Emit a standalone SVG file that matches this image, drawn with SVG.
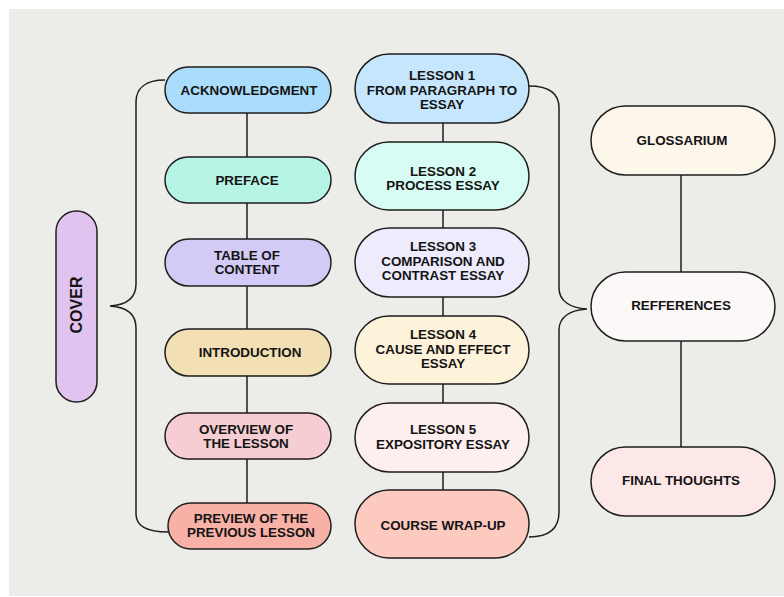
<svg xmlns="http://www.w3.org/2000/svg" width="784" height="597" viewBox="0 0 784 597">
<style>
.n{stroke:#1e1e1e;stroke-width:1.5}
.t{font-family:"Liberation Sans",Arial,sans-serif;font-weight:bold;font-size:13.4px;fill:#141414;text-anchor:middle}
.c{fill:none;stroke:#1e1e1e;stroke-width:1.5}
</style>
<rect x="0" y="0" width="784" height="597" fill="#ffffff"/>
<rect x="9" y="9" width="775" height="587" fill="#ecede8"/>
<g id="connectors">
<path class="c" d="M247,113 V157 M247,203 V239 M247,286 V329 M247,376 V413 M247,459 V503"/>
<path class="c" d="M443,123 V142 M443,210 V228 M443,297 V316 M443,384 V403 M443,472 V490"/>
<path class="c" d="M681,175 V272 M681,341 V447"/>
<path class="c" d="M165,80 C146,80 136,88 136,102 L136,284 C136,298 126,305 110,306 C126,307 136,314 136,328 L136,514 C136,526 146,532 168,532"/>
<path class="c" d="M529,86 C549,86 559,94 559,108 L559,288 C559,301 570,308 587,309 C570,310 559,317 559,330 L559,512 C559,528 549,537 529,537"/>
</g>
<g id="cover"><rect class="n" x="56" y="211" width="41" height="191" rx="20.5" fill="#e0c3ef"/><text class="t" style="font-size:16px" transform="translate(82,305) rotate(-90)">COVER</text></g>
<g id="acknowledgment"><rect class="n" x="165" y="67" width="166" height="46" rx="23" fill="#aadcfc"/><text class="t" x="249" y="95">ACKNOWLEDGMENT</text></g>
<g id="preface"><rect class="n" x="165" y="157" width="166" height="46" rx="23" fill="#b6f5e6"/><text class="t" x="247" y="184.5">PREFACE</text></g>
<g id="table-of-content"><rect class="n" x="165" y="239" width="166" height="47" rx="23.5" fill="#d3caf6"/><text class="t" x="247" y="260">TABLE OF</text><text class="t" x="247" y="274">CONTENT</text></g>
<g id="introduction"><rect class="n" x="165" y="329" width="166" height="47" rx="23.5" fill="#f2dfb4"/><text class="t" x="250" y="357">INTRODUCTION</text></g>
<g id="overview"><rect class="n" x="165" y="413" width="166" height="46" rx="23" fill="#f6cdd3"/><text class="t" x="246" y="434">OVERVIEW OF</text><text class="t" x="246" y="448">THE LESSON</text></g>
<g id="preview"><rect class="n" x="168" y="503" width="163" height="46" rx="23" fill="#f8b1a6"/><text class="t" x="251" y="523">PREVIEW OF THE</text><text class="t" x="251" y="537">PREVIOUS LESSON</text></g>
<g id="lesson1"><rect class="n" x="355" y="54" width="174" height="69" rx="34.5" fill="#c5e6fd"/><text class="t" x="442" y="80">LESSON 1</text><text class="t" x="442" y="95">FROM PARAGRAPH TO</text><text class="t" x="442" y="109">ESSAY</text></g>
<g id="lesson2"><rect class="n" x="355" y="142" width="174" height="68" rx="34" fill="#d7fcf3"/><text class="t" x="443" y="176">LESSON 2</text><text class="t" x="443" y="190">PROCESS ESSAY</text></g>
<g id="lesson3"><rect class="n" x="355" y="228" width="174" height="69" rx="34.5" fill="#eeebfd"/><text class="t" x="443" y="251">LESSON 3</text><text class="t" x="443" y="266">COMPARISON AND</text><text class="t" x="443" y="280">CONTRAST ESSAY</text></g>
<g id="lesson4"><rect class="n" x="355" y="316" width="174" height="68" rx="34" fill="#fdf2da"/><text class="t" x="443" y="339">LESSON 4</text><text class="t" x="443" y="354">CAUSE AND EFFECT</text><text class="t" x="443" y="368">ESSAY</text></g>
<g id="lesson5"><rect class="n" x="355" y="403" width="174" height="69" rx="34.5" fill="#fdeff0"/><text class="t" x="443" y="434">LESSON 5</text><text class="t" x="443" y="449">EXPOSITORY ESSAY</text></g>
<g id="course-wrap-up"><rect class="n" x="355" y="490" width="174" height="68" rx="34" fill="#fdcac0"/><text class="t" x="443" y="530">COURSE WRAP-UP</text></g>
<g id="glossarium"><rect class="n" x="591" y="106" width="184" height="69" rx="34.5" fill="#fdf6ea"/><text class="t" x="682" y="145">GLOSSARIUM</text></g>
<g id="refferences"><rect class="n" x="591" y="272" width="184" height="69" rx="34.5" fill="#fdf8f8"/><text class="t" x="681" y="310">REFFERENCES</text></g>
<g id="final-thoughts"><rect class="n" x="591" y="447" width="184" height="69" rx="34.5" fill="#fde8e8"/><text class="t" x="681" y="485">FINAL THOUGHTS</text></g>
</svg>
